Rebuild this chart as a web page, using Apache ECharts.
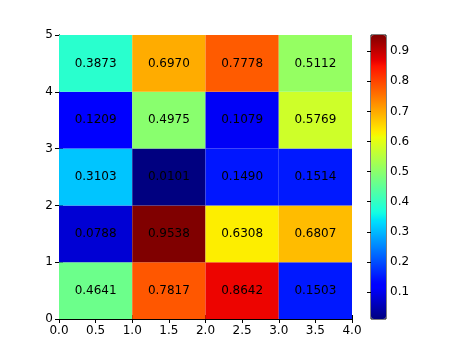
<!DOCTYPE html>
<html><head><meta charset="utf-8">
<script src="https://cdn.jsdelivr.net/npm/echarts@6/dist/echarts.min.js"></script>
<style>html,body{margin:0;padding:0;background:#fff}#c{width:474px;height:355px}</style>
</head><body><div id="c"></div>
<script>
// cell rows from bottom (y 0-1) to top (y 4-5), columns x 0-1 .. 3-4
const xEdges = [0, 1, 2, 3, 4];
const yEdges = [0, 1, 2, 3, 4, 5];
const row0 = [0.4641, 0.7817, 0.8642, 0.1503];
const row1 = [0.0788, 0.9538, 0.6308, 0.6807];
const row2 = [0.3103, 0.0101, 0.1490, 0.1514];
const row3 = [0.1209, 0.4975, 0.1079, 0.5769];
const row4 = [0.3873, 0.6970, 0.7778, 0.5112];
const rows = [row0, row1, row2, row3, row4];
const xTicks = [0, 0.5, 1, 1.5, 2, 2.5, 3, 3.5, 4];
const yTicks = [0, 1, 2, 3, 4, 5];
const cbTicks = [0.1, 0.2, 0.3, 0.4, 0.5, 0.6, 0.7, 0.8, 0.9];

const vmin = 0.0101, vmax = 0.9538;
function jet(t){
  function seg(pts){ for(let i=1;i<pts.length;i++){ if(t<=pts[i][0]){const a=pts[i-1],b=pts[i];return a[1]+(b[1]-a[1])*(t-a[0])/(b[0]-a[0]);} } return pts[pts.length-1][1]; }
  const r=seg([[0,0],[0.35,0],[0.66,1],[0.89,1],[1,0.5]]);
  const g=seg([[0,0],[0.125,0],[0.375,1],[0.64,1],[0.91,0],[1,0]]);
  const b=seg([[0,0.5],[0.11,1],[0.34,1],[0.65,0],[1,0]]);
  return 'rgb('+Math.round(r*255)+','+Math.round(g*255)+','+Math.round(b*255)+')';
}
const jetColors=[]; for(let i=0;i<=100;i++) jetColors.push(jet(i/100));

const data=[];
rows.forEach((r,j)=>r.forEach((v,i)=>data.push([xEdges[i],xEdges[i+1],yEdges[j],yEdges[j+1],v])));

const FONT='DejaVu Sans';
const chart=echarts.init(document.getElementById('c'));
const axisCommon={axisLine:{show:true,lineStyle:{color:'#000',width:1}},axisTick:{show:true,inside:true,length:4,lineStyle:{color:'#000'}},splitLine:{show:false},axisLabel:{color:'#000',fontFamily:FONT,fontSize:12}};
chart.setOption({
  animation:false,
  grid:[
    {left:59,top:35,width:293,height:284,show:false},
    {left:371,top:35,width:15,height:284,show:true,borderColor:'#000',borderWidth:1,backgroundColor:'transparent'}
  ],
  xAxis:[
    Object.assign({},axisCommon,{type:'value',gridIndex:0,min:0,max:4,interval:0.5,position:'bottom',axisLabel:Object.assign({},axisCommon.axisLabel,{margin:6,formatter:v=>v.toFixed(1)})}),
    Object.assign({},axisCommon,{type:'value',gridIndex:0,min:0,max:4,interval:0.5,position:'top',axisLabel:{show:false}}),
    {type:'value',gridIndex:1,min:0,max:1,show:false}
  ],
  yAxis:[
    Object.assign({},axisCommon,{type:'value',gridIndex:0,min:0,max:5,interval:1,position:'left',axisLabel:Object.assign({},axisCommon.axisLabel,{margin:6})}),
    Object.assign({},axisCommon,{type:'value',gridIndex:0,min:0,max:5,interval:1,position:'right',axisLabel:{show:false}}),
    {type:'value',gridIndex:1,min:vmin,max:vmax,interval:0.1,position:'right',
     axisLine:{show:false},axisTick:{show:true,inside:true,length:4,lineStyle:{color:'#000'},customValues:cbTicks},
     splitLine:{show:false},
     axisLabel:{color:'#000',fontFamily:FONT,fontSize:12,margin:4,customValues:cbTicks,formatter:v=>v.toFixed(1)}}
  ],
  visualMap:{type:'continuous',min:vmin,max:vmax,seriesIndex:0,dimension:4,calculable:false,
    left:371,top:35,itemWidth:15,itemHeight:284,text:['',''],showLabel:false,padding:0,
    inRange:{color:jetColors}},
  series:[{
    type:'custom',xAxisIndex:0,yAxisIndex:0,data:data,encode:{x:[0,1],y:[2,3]},
    renderItem:function(params,api){
      const p0=api.coord([api.value(0),api.value(3)]);
      const p1=api.coord([api.value(1),api.value(2)]);
      const v=api.value(4);
      return {type:'group',children:[
        {type:'rect',shape:{x:p0[0],y:p0[1],width:p1[0]-p0[0],height:p1[1]-p0[1]},style:{fill:api.visual('color'),stroke:null}},
        {type:'text',x:(p0[0]+p1[0])/2,y:(p0[1]+p1[1])/2,style:{text:v.toFixed(4),fill:'#000',font:'12px "DejaVu Sans"',align:'center',verticalAlign:'middle'}}
      ]};
    }
  }]
});
</script></body></html>
